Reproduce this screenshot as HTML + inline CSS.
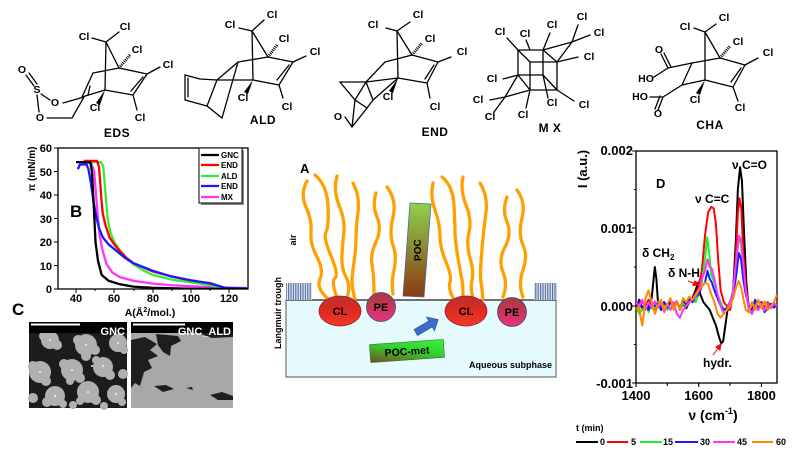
<!DOCTYPE html>
<html><head><meta charset="utf-8"><style>
html,body{margin:0;padding:0;background:#fff;width:800px;height:469px;overflow:hidden}
svg{display:block}
text{font-family:"Liberation Sans",Arial,sans-serif}
.cl{font-size:10.5px;font-weight:bold;text-anchor:middle;dominant-baseline:central}
.ml{font-size:12px;font-weight:bold;text-anchor:middle;letter-spacing:0.5px}
.b{stroke:#000;stroke-width:1.3;fill:none;stroke-linecap:round}
.tk{font-size:11px;font-weight:bold}
.dk{font-size:13px;font-weight:bold}
</style></head><body>
<svg width="800" height="469" viewBox="0 0 800 469" xmlns="http://www.w3.org/2000/svg">
<defs>
<linearGradient id="gPOC" x1="0" y1="0" x2="0" y2="1"><stop offset="0" stop-color="#8fd14f"/><stop offset="1" stop-color="#8a3a12"/></linearGradient>
<linearGradient id="gMet" x1="0" y1="1" x2="1" y2="0"><stop offset="0" stop-color="#7a4a1e"/><stop offset="0.55" stop-color="#2fd42f"/><stop offset="1" stop-color="#3ef03e"/></linearGradient>
<linearGradient id="gCL" x1="0" y1="0" x2="0" y2="1"><stop offset="0" stop-color="#b8332a"/><stop offset="0.5" stop-color="#e02a22"/><stop offset="1" stop-color="#f03a2a"/></linearGradient>
<linearGradient id="gPE" x1="0" y1="0" x2="0" y2="1"><stop offset="0" stop-color="#a83a3a"/><stop offset="1" stop-color="#e8347e"/></linearGradient>
<pattern id="stripe" width="2.4" height="10" patternUnits="userSpaceOnUse"><rect width="2.4" height="10" fill="#e4eaf4"/><rect width="1.2" height="10" fill="#5a6fa0"/></pattern>
<clipPath id="cpD"><rect x="636" y="151" width="141" height="232"/></clipPath>
<clipPath id="cpB"><rect x="58" y="148" width="190" height="141"/></clipPath>
<clipPath id="cpC2"><rect x="131" y="322" width="102" height="86"/></clipPath>
</defs>

<!-- ================= MOLECULES ================= -->
<!-- EDS -->
<path class="b" d="M106 42 L92 38 M106 42 L119 32 M106 42 L119 68 M106 42 L105 90 M119 68 L147 74 M147 74 L133 95 M143 77 L131 91 M133 95 L105 90 M119 68 L93 73 M93 73 L82 97 M82 97 L105 90 M147 74 L160 67 M133 95 L137 110 M84 97 L63 103 M84 97 L72 118 L47 118 M41 94 L50 100 M37 95 L39 112 M34 86 L26 75 M37 84 L29 73 M88 95 L90 86"/>
<path d="M119 68 L130 55" stroke="#000" stroke-width="3" stroke-dasharray="1,1"/>
<polygon points="105,90 96,103 100,105" fill="#000"/>
<g class="cl"><text x="84" y="37">Cl</text><text x="125" y="27">Cl</text><text x="137" y="50">Cl</text><text x="168" y="65">Cl</text><text x="95" y="108">Cl</text><text x="140" y="118">Cl</text>
<text x="22" y="70">O</text><text x="37" y="90">S</text><text x="55" y="103">O</text><text x="40" y="118">O</text></g>
<text class="ml" x="117" y="137">EDS</text>

<!-- ALD -->
<path class="b" d="M252 31 L239 28 M252 31 L264 20 M252 31 L268 57 M252 31 L253 80 M268 57 L293 62 M293 62 L279 85 M289 65 L277 80 M279 85 L253 80 M268 57 L238 62 M238 62 L217 80 M217 80 L253 80 M217 80 L207 106 L222 118 L230 90 M238 62 L230 90 M200 79 L185 75 L185 100 L207 106 M188 78 L188 97 M200 79 L217 80 M293 62 L306 56 M279 85 L283 98"/>
<path d="M268 57 L277 45" stroke="#000" stroke-width="3" stroke-dasharray="1,1"/>
<polygon points="253,80 244,92 248,94" fill="#000"/>
<g class="cl"><text x="230" y="25">Cl</text><text x="272" y="15">Cl</text><text x="284" y="39">Cl</text><text x="315" y="52">Cl</text><text x="243" y="98">Cl</text><text x="287" y="107">Cl</text></g>
<text class="ml" x="263" y="124">ALD</text>

<!-- END -->
<path class="b" d="M397 31 L386 28 M397 31 L410 22 M397 31 L412 55 M397 31 L398 78 M412 55 L438 62 M438 62 L427 83 M434 65 L425 79 M427 83 L398 78 M412 55 L385 62 M385 62 L366 82 M366 82 L398 78 M366 82 L373 100 L398 78 M366 82 L340 82 L355 100 L366 82 M355 100 L367 108 L352 127 L345 117 M355 100 L352 127 M367 108 L373 100 M438 62 L451 57 M427 83 L430 98"/>
<path d="M412 55 L422 43" stroke="#000" stroke-width="3" stroke-dasharray="1,1"/>
<polygon points="398,78 389,91 393,93" fill="#000"/>
<g class="cl"><text x="373" y="25">Cl</text><text x="418" y="15">Cl</text><text x="430" y="39">Cl</text><text x="462" y="52">Cl</text><text x="388" y="97">Cl</text><text x="435" y="107">Cl</text><text x="338" y="117">O</text></g>
<text class="ml" x="435" y="136">END</text>

<!-- MX -->
<path class="b" d="M518 50 L543 50 L543 75 L518 75 Z M530 62 L557 62 L557 90 L530 90 Z M518 50 L530 62 M543 50 L557 62 M518 75 L530 90 M543 75 L557 90 M543 50 L572 42 L557 62 M518 75 L505 97 L530 90 M557 62 L578 57 M557 90 L574 101 M518 50 L507 38 M518 75 L503 79 M505 97 L490 100 M505 97 L494 112 M530 90 L526 108 M543 75 L548 98 M572 42 L578 25 M572 42 L590 35 M530 50 L526 40 M543 50 L550 33"/>
<g class="cl"><text x="500" y="32">Cl</text><text x="525" y="34">Cl</text><text x="552" y="25">Cl</text><text x="582" y="17">Cl</text><text x="599" y="33">Cl</text><text x="589" y="57">Cl</text><text x="492" y="79">Cl</text><text x="478" y="100">Cl</text><text x="490" y="117">Cl</text><text x="523" y="115">Cl</text><text x="552" y="103">Cl</text><text x="584" y="105">Cl</text></g>
<text class="ml" x="550" y="132">M X</text>

<!-- CHA -->
<path class="b" d="M705 32 L694 28 M705 32 L716 24 M705 32 L720 58 M705 32 L705 80 M720 58 L745 65 M745 65 L733 87 M741 68 L731 82 M733 87 L705 80 M720 58 L692 63 M692 63 L682 85 M682 85 L705 80 M745 65 L758 58 M733 87 L738 101 M692 63 L668 68 M668 68 L661 54 M671 67 L664 53 M668 68 L654 77 M682 85 L663 97 M663 97 L658 110 M660 96 L655 109 M663 97 L650 97"/>
<path d="M720 58 L730 46" stroke="#000" stroke-width="3" stroke-dasharray="1,1"/>
<polygon points="705,80 696,93 700,95" fill="#000"/>
<g class="cl"><text x="685" y="27">Cl</text><text x="724" y="18">Cl</text><text x="738" y="42">Cl</text><text x="768" y="53">Cl</text><text x="695" y="100">Cl</text><text x="740" y="108">Cl</text>
<text x="659" y="50">O</text><text x="646" y="79">HO</text><text x="640" y="97">HO</text><text x="658" y="114">O</text></g>
<text class="ml" x="710" y="129">CHA</text>

<!-- ================= PLOT B ================= -->
<rect x="58" y="148" width="190" height="141" fill="#fff" stroke="#000" stroke-width="1.3"/>
<path stroke="#000" stroke-width="1" d="M76 289 v4 M114 289 v4 M153 289 v4 M191 289 v4 M229 289 v4 M95 289 v2 M134 289 v2 M172 289 v2 M210 289 v2 M58 148 h-4 M58 171.5 h-4 M58 195 h-4 M58 218.5 h-4 M58 242 h-4 M58 265.5 h-4 M58 289 h-4"/>
<text class="tk" x="52" y="152" text-anchor="end">60</text>
<text class="tk" x="52" y="176" text-anchor="end">50</text>
<text class="tk" x="52" y="199" text-anchor="end">40</text>
<text class="tk" x="52" y="223" text-anchor="end">30</text>
<text class="tk" x="52" y="246" text-anchor="end">20</text>
<text class="tk" x="52" y="270" text-anchor="end">10</text>
<text class="tk" x="52" y="293" text-anchor="end">0</text>
<text class="tk" x="76" y="302" text-anchor="middle">40</text>
<text class="tk" x="114" y="302" text-anchor="middle">60</text>
<text class="tk" x="153" y="302" text-anchor="middle">80</text>
<text class="tk" x="191" y="302" text-anchor="middle">100</text>
<text class="tk" x="229" y="302" text-anchor="middle">120</text>
<text x="150" y="316" font-size="10.5" font-weight="bold" text-anchor="middle">A(Å<tspan font-size="7" dy="-4">2</tspan><tspan dy="4">/mol.)</tspan></text>
<text transform="translate(35,169) rotate(-90)" font-size="10" font-weight="bold" text-anchor="middle">π (mN/m)</text>
<text x="70" y="217" font-size="17" font-weight="bold">B</text>
<g clip-path="url(#cpB)"><g transform="matrix(1.913,0,0,-2.35,-0.52,289)" fill="none" stroke-width="2.3" stroke-linejoin="round">
<polyline vector-effect="non-scaling-stroke" stroke="#ff33ff" points="44,54 48,53.5 49.5,50 50.5,40 51.5,30 52.5,22 54,16 56,10.5 59,7 63,5 70,3.5 80,2.3 90,1.6 100,1.2 110,0.8 120,0.5 131,0.4"/>
<polyline vector-effect="non-scaling-stroke" stroke="#33ee33" points="47,54 53,54 54.3,52 55,45 55.7,38 56.5,30 58,24 60,20 63,16.5 66,13.5 70,10.5 75,8 80,6 90,4 100,2.8 110,1.7 116,0.3 131,0.1"/>
<polyline vector-effect="non-scaling-stroke" stroke="#ff0000" points="44,54.5 51,54.5 52,52 52.7,45 53.3,38 54,32 55.5,27 57.5,22 60,19 63,16 66,13.5 70,11 80,7.5 90,5.3 100,3.6 110,2.5 114,1.5 118,0.3 131,0.1"/>
<polyline vector-effect="non-scaling-stroke" stroke="#1a1aff" points="41,51 42,53 45.5,53 46.5,51 47.8,45 49,38 50.5,31 52,26 54,22 57,19 60,17 63,15 66,13 70,11 80,7.8 90,5.3 100,3.7 110,2.4 118,0.5 131,0.2"/>
<polyline vector-effect="non-scaling-stroke" stroke="#000" points="40,54 47.5,54 48.3,50 49,40 49.6,30 50.2,20 51.5,12 53.4,6 57,3.5 63,2 70,1 80,0.5 100,0.1 131,0"/>
</g></g>
<!-- legend B -->
<rect x="201" y="150" width="43" height="55" fill="#888"/>
<rect x="199" y="148" width="43" height="55" fill="#fff" stroke="#000" stroke-width="1"/>
<g stroke-width="2.3"><line x1="201" y1="155" x2="219" y2="155" stroke="#000"/><line x1="201" y1="165" x2="219" y2="165" stroke="#f00"/><line x1="201" y1="176" x2="219" y2="176" stroke="#33ee33"/><line x1="201" y1="186" x2="219" y2="186" stroke="#1a1aff"/><line x1="201" y1="197" x2="219" y2="197" stroke="#ff33ff"/></g>
<g font-size="8" font-weight="bold"><text x="221" y="158">GNC</text><text x="221" y="168">END</text><text x="221" y="179">ALD</text><text x="221" y="189">END</text><text x="221" y="200">MX</text></g>

<!-- ================= PANEL C ================= -->
<text x="12" y="315" font-size="17" font-weight="bold">C</text>
<rect x="29" y="322" width="98" height="86" fill="#1c1c1c"/>
<g fill="#b0b0b0">
<circle cx="50" cy="340" r="9"/><circle cx="44" cy="336" r="5"/><circle cx="57" cy="345" r="5"/>
<circle cx="86" cy="345" r="11"/><circle cx="78" cy="340" r="5"/><circle cx="95" cy="350" r="5"/><circle cx="86" cy="356" r="5"/>
<circle cx="118" cy="343" r="9"/><circle cx="124" cy="350" r="4"/>
<circle cx="40" cy="372" r="11"/><circle cx="33" cy="366" r="5"/><circle cx="46" cy="381" r="5"/>
<circle cx="72" cy="370" r="11"/><circle cx="64" cy="364" r="5"/><circle cx="80" cy="378" r="5"/><circle cx="70" cy="381" r="4"/>
<circle cx="103" cy="367" r="10"/><circle cx="110" cy="375" r="5"/><circle cx="96" cy="360" r="4"/>
<circle cx="123" cy="374" r="5"/>
<circle cx="55" cy="396" r="10"/><circle cx="47" cy="402" r="5"/><circle cx="63" cy="404" r="4"/>
<circle cx="88" cy="392" r="11"/><circle cx="96" cy="400" r="5"/><circle cx="80" cy="401" r="4"/>
<circle cx="116" cy="394" r="9"/><circle cx="122" cy="402" r="4"/>
<circle cx="33" cy="398" r="5"/><circle cx="73" cy="405" r="4"/><circle cx="104" cy="406" r="4"/>
</g>
<g fill="#f4f4f4"><circle cx="86" cy="345" r="1"/><circle cx="72" cy="370" r="1"/><circle cx="103" cy="366" r="1"/><circle cx="88" cy="392" r="1"/><circle cx="55" cy="396" r="1"/><circle cx="40" cy="372" r="1"/><circle cx="116" cy="394" r="1"/><circle cx="50" cy="340" r="1"/><circle cx="118" cy="343" r="1"/><circle cx="92" cy="366" r="1"/></g>
<rect x="29" y="322" width="98" height="11" fill="#000"/>
<line x1="31" y1="324.5" x2="80" y2="324.5" stroke="#fff" stroke-width="2"/>
<text x="125" y="335" font-size="11" font-weight="bold" fill="#fff" text-anchor="end">GNC</text>

<rect x="131" y="322" width="102" height="86" fill="#a8a8a8"/>
<g fill="#1e1e1e" clip-path="url(#cpC2)">
<path d="M131 340 L145 337 L157 344 L150 350 L158 356 L148 360 L152 368 L144 372 L140 386 L135 383 L131 388 Z"/>
<path d="M156 334 L178 336 L181 341 L171 346 L170 356 L163 352 L158 345 Z"/>
<path d="M198 333 L233 333 L233 337 L212 338 Z"/>
<path d="M154 386 L166 385 L174 389 L163 392 Z"/>
<path d="M210 395 L222 392 L233 396 L233 400 L218 400 Z"/>
<path d="M186 388 L192 387 L193 390 Z"/>
</g>
<rect x="131" y="322" width="102" height="11" fill="#000"/>
<line x1="133" y1="324.5" x2="185" y2="324.5" stroke="#fff" stroke-width="2"/>
<text x="231" y="335" font-size="11" font-weight="bold" fill="#fff" text-anchor="end">GNC_ALD</text>

<!-- ================= PANEL A ================= -->
<rect x="286" y="300" width="270" height="77" fill="#e6fbfd" stroke="#555" stroke-width="1"/>
<line x1="286" y1="300" x2="556" y2="300" stroke="#444" stroke-width="1.5"/>
<rect x="286" y="283" width="26" height="17" fill="url(#stripe)"/>
<rect x="534" y="283" width="23" height="17" fill="url(#stripe)"/>
<text transform="translate(281,313) rotate(-90)" font-size="9" font-weight="bold" text-anchor="middle">Langmuir trough</text>
<text transform="translate(296,240) rotate(-90)" font-size="9" font-weight="bold" text-anchor="middle">air</text>
<text x="300" y="173" font-size="13" font-weight="bold">A</text>
<!-- tails -->
<g fill="none" stroke="#ffa000" stroke-width="3.3" stroke-linecap="round">
<path d="M307 181 Q300 194 306 207 T311 232 T317 257 T320 279 T328 299"/>
<path d="M315 175 Q327 185 328 206 T326 232 T331 256 T335 278 T337 298"/>
<path d="M337 176 Q333 190 339 205 T344 230 T342 254 T346 277 T347 298"/>
<path d="M353 183 Q360 196 358 212 T356 238 T354 262 T352 282 T355 299"/>
<path d="M376 193 Q372 205 377 217 T376 242 T372 265 T374 295"/>
<path d="M387 187 Q397 200 393 217 T393 245 T394 270 T393 294"/>
<path d="M433 183 Q430 196 435 210 T440 236 T446 262 T450 282 T453 298"/>
<path d="M442 177 Q453 186 454 205 T455 232 T458 258 T462 280 T463 298"/>
<path d="M463 177 Q460 190 466 205 T469 232 T470 258 T472 280 T473 298"/>
<path d="M480 183 Q488 196 486 212 T483 238 T481 262 T481 282 T483 299"/>
<path d="M507 197 Q502 210 507 222 T505 247 T503 272 T503 297"/>
<path d="M517 190 Q526 202 522 218 T523 245 T523 270 T523 297"/>
</g>
<!-- POC -->
<polygon points="410,203 431,204 424,297 403,296" fill="url(#gPOC)" stroke="#4a6a9a" stroke-width="0.8"/>
<text transform="translate(421,250) rotate(-92)" font-size="10" font-weight="bold" text-anchor="middle">POC</text>
<!-- heads -->
<ellipse cx="340" cy="311" rx="21" ry="15" fill="url(#gCL)" stroke="#a02020" stroke-width="0.8"/>
<circle cx="381" cy="307" r="14.5" fill="url(#gPE)" stroke="#3a4a8a" stroke-width="0.8"/>
<ellipse cx="466" cy="311" rx="21" ry="15" fill="url(#gCL)" stroke="#a02020" stroke-width="0.8"/>
<circle cx="512" cy="312" r="14.5" fill="url(#gPE)" stroke="#3a4a8a" stroke-width="0.8"/>
<g font-size="11" font-weight="bold" text-anchor="middle"><text x="340" y="315">CL</text><text x="381" y="311">PE</text><text x="466" y="315">CL</text><text x="512" y="316">PE</text></g>
<!-- arrow -->
<polygon transform="translate(427,326) rotate(-30)" points="-13,-3.5 4,-3.5 4,-8 13,0 4,8 4,3.5 -13,3.5" fill="#3a6ec8" stroke="#2a4f9a" stroke-width="0.6"/>
<!-- POC-met -->
<g transform="translate(407,351) rotate(-4)">
<rect x="-37" y="-9" width="74" height="18" fill="url(#gMet)" stroke="#3a6a3a" stroke-width="0.6"/>
<text x="0" y="4" font-size="10.5" font-weight="bold" text-anchor="middle">POC-met</text>
</g>
<text x="552" y="368" font-size="9" font-weight="bold" text-anchor="end">Aqueous subphase</text>

<!-- ================= PANEL D ================= -->
<rect x="636" y="151" width="141" height="232" fill="#fff" stroke="#000" stroke-width="1.3"/>
<path stroke="#000" stroke-width="1.1" d="M636 151 h-4 M636 228 h-4 M636 306 h-4 M636 383 h-4 M636 189.5 h-2 M636 267 h-2 M636 344.5 h-2 M636 383 v4 M667.3 383 v3 M698.7 383 v4 M730 383 v3 M761.4 383 v4"/>
<text class="dk" x="633" y="155" text-anchor="end">0.002</text>
<text class="dk" x="633" y="233" text-anchor="end">0.001</text>
<text class="dk" x="633" y="311" text-anchor="end">0.000</text>
<text class="dk" x="633" y="388" text-anchor="end">-0.001</text>
<text class="dk" x="636" y="400" text-anchor="middle">1400</text>
<text class="dk" x="698.7" y="400" text-anchor="middle">1600</text>
<text class="dk" x="761.4" y="400" text-anchor="middle">1800</text>
<text x="713" y="420" font-size="14" font-weight="bold" text-anchor="middle">ν (cm<tspan font-size="9" dy="-6">-1</tspan><tspan dy="6">)</tspan></text>
<text transform="translate(587,169) rotate(-90)" font-size="13" font-weight="bold" text-anchor="middle">I (a.u.)</text>
<text x="656" y="188" font-size="13" font-weight="bold">D</text>
<g clip-path="url(#cpD)"><g transform="matrix(0.3135,0,0,-0.78,197.1,306)" fill="none" stroke-width="2" stroke-linejoin="round">
<polyline vector-effect="non-scaling-stroke" stroke="#000" points="1400,-5 1410,8 1420,-3 1430,5 1440,-2 1450,10 1455,30 1460,50 1465,35 1470,5 1480,-5 1490,3 1500,-3 1510,8 1520,0 1530,5 1540,-5 1550,3 1560,-3 1570,5 1580,10 1590,20 1598,30 1605,15 1615,5 1625,0 1635,-5 1645,-15 1655,-25 1665,-40 1672,-48 1678,-45 1685,-25 1692,-5 1700,-3 1710,20 1718,80 1725,150 1732,178 1738,160 1745,90 1752,30 1760,-5 1770,-10 1780,3 1790,-5 1800,5 1810,-3 1820,4 1830,-2 1840,3 1850,0"/>
<polyline vector-effect="non-scaling-stroke" stroke="#ff0000" points="1400,5 1410,-3 1420,6 1430,0 1440,8 1450,2 1460,-4 1470,6 1480,0 1490,5 1500,-2 1510,4 1520,0 1530,6 1540,-3 1550,4 1560,0 1570,6 1580,8 1590,15 1600,25 1610,45 1620,90 1630,120 1640,127 1648,125 1655,105 1662,60 1670,20 1680,5 1690,0 1700,-5 1710,15 1718,60 1725,120 1730,138 1736,125 1742,70 1750,25 1760,0 1770,-5 1780,5 1790,-3 1800,4 1810,-2 1820,5 1830,0 1840,3 1850,-2"/>
<polyline vector-effect="non-scaling-stroke" stroke="#22ee22" points="1400,0 1410,-10 1420,-5 1430,5 1440,-8 1450,3 1460,-3 1470,5 1480,-2 1490,4 1500,-5 1510,3 1520,0 1530,4 1540,-4 1550,3 1560,0 1570,5 1580,8 1590,5 1600,15 1610,30 1620,60 1627,88 1633,70 1640,40 1650,30 1660,15 1670,5 1680,-5 1690,-2 1700,5 1710,20 1720,60 1728,85 1735,80 1742,45 1750,20 1760,-5 1770,-8 1780,3 1790,-4 1800,2 1810,-5 1820,3 1830,-3 1840,2 1850,0"/>
<polyline vector-effect="non-scaling-stroke" stroke="#1a1aff" points="1400,-3 1410,5 1420,-2 1430,3 1440,-5 1450,4 1460,0 1470,3 1480,-3 1490,5 1500,-2 1510,5 1520,0 1530,4 1540,-3 1550,8 1560,2 1570,10 1580,5 1590,12 1600,15 1610,25 1620,30 1628,45 1635,35 1642,30 1650,20 1660,10 1670,0 1680,-5 1690,-3 1700,5 1710,15 1720,40 1728,68 1735,60 1742,35 1750,15 1760,0 1770,-5 1780,8 1790,-3 1800,4 1810,-8 1820,-3 1830,3 1840,-2 1850,2"/>
<polyline vector-effect="non-scaling-stroke" stroke="#ff33ff" points="1400,5 1410,0 1420,8 1430,-5 1440,5 1450,-3 1460,6 1470,-2 1480,5 1490,-8 1500,3 1510,-5 1520,5 1530,-10 1540,-15 1550,-5 1560,0 1570,5 1580,8 1590,12 1600,20 1610,35 1620,45 1628,60 1635,50 1642,48 1650,35 1660,15 1670,0 1680,-10 1690,-5 1700,5 1710,20 1720,60 1728,90 1735,85 1742,55 1750,20 1760,-5 1770,-10 1780,0 1790,-5 1800,3 1810,-6 1820,2 1830,-3 1840,4 1850,0"/>
<polyline vector-effect="non-scaling-stroke" stroke="#ff8800" points="1400,-5 1410,0 1415,-15 1420,-25 1425,-10 1430,10 1440,20 1450,5 1460,-10 1470,0 1480,8 1490,-5 1500,3 1510,10 1520,-5 1530,5 1540,-5 1550,10 1560,5 1570,12 1580,8 1590,15 1600,20 1610,25 1620,30 1630,28 1640,15 1650,5 1660,-10 1670,-15 1680,-10 1690,-5 1700,0 1710,10 1720,25 1727,32 1735,25 1742,10 1750,-5 1760,-8 1770,5 1780,-5 1790,8 1800,-3 1810,6 1820,-5 1830,0 1840,5 1850,15"/>
</g></g>
<g font-size="12" font-weight="bold">
<text x="732" y="169">ν C=O</text>
<text x="695" y="203">ν C=C</text>
<text x="642" y="257">δ CH<tspan font-size="8" dy="3">2</tspan></text>
<text x="668" y="277">δ N-H</text>
<text x="703" y="367">hydr.</text>
</g>
<g stroke="#f00" stroke-width="1" fill="#f00">
<line x1="688" y1="281" x2="696" y2="284"/><polygon points="699,285 693,285.5 695,281"/>
<line x1="713" y1="355" x2="719" y2="347"/><polygon points="721,344 720,350 716,347"/>
</g>
<!-- legend D -->
<text x="576" y="431" font-size="9" font-weight="bold">t (min)</text>
<g stroke-width="2"><line x1="576" y1="442" x2="598" y2="442" stroke="#000"/><line x1="607" y1="442" x2="628" y2="442" stroke="#f00"/><line x1="640" y1="442" x2="662" y2="442" stroke="#22ee22"/><line x1="675" y1="442" x2="698" y2="442" stroke="#1a1aff"/><line x1="713" y1="442" x2="735" y2="442" stroke="#ff33ff"/><line x1="752" y1="442" x2="773" y2="442" stroke="#ff8800"/></g>
<g font-size="9" font-weight="bold"><text x="600" y="445">0</text><text x="631" y="445">5</text><text x="663" y="445">15</text><text x="700" y="445">30</text><text x="737" y="445">45</text><text x="776" y="445">60</text></g>
</svg>
</body></html>
